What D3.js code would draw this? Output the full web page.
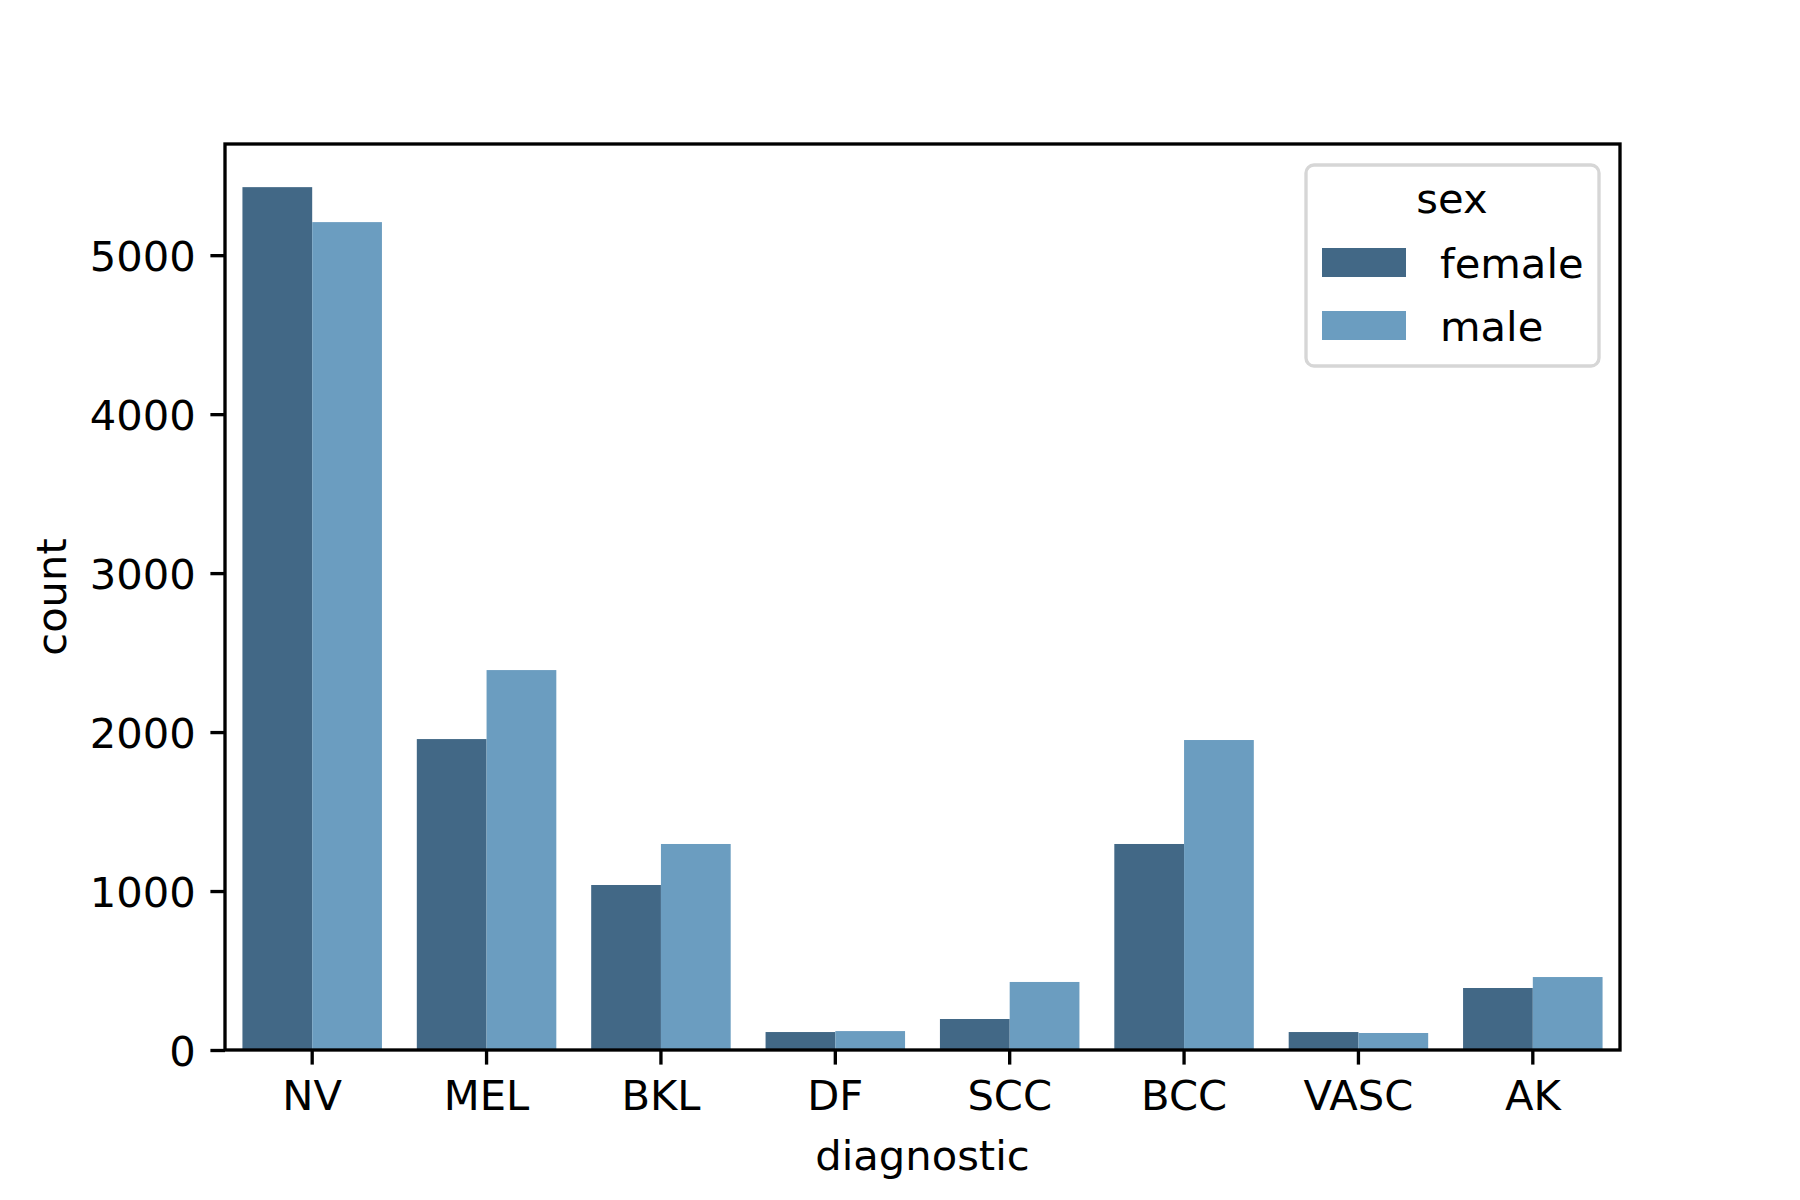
<!DOCTYPE html>
<html>
<head>
<meta charset="utf-8">
<script src="https://cdn.jsdelivr.net/npm/d3@7"></script>
<style>
  body { margin: 0; background: #fff; }
  text { font-family: "DejaVu Sans", sans-serif; fill: #000; }
</style>
</head>
<body>
<div id="chart"></div>
<script>
// values
const categories = ["NV", "MEL", "BKL", "DF", "SCC", "BCC", "VASC", "AK"];
const femaleCounts = [5428, 1956, 1038, 113, 195, 1296, 113, 390];
const maleCounts = [5208, 2390, 1296, 119, 428, 1950, 107, 459];
const seriesNames = ["female", "male"];
const yTicks = [0, 1000, 2000, 3000, 4000, 5000];

const colors = { female: "#426886", male: "#6b9dc0" };

const width = 1800, height = 1200;
const margin = { left: 225, right: 180, top: 144, bottom: 150 };
const fontSize = 41.67;
const lineW = 3.33;
const tickLen = 14.6;

const svg = d3.select("#chart").append("svg")
  .attr("width", width)
  .attr("height", height);

const plotW = width - margin.left - margin.right;
const plotH = height - margin.top - margin.bottom;

const x = d3.scaleBand()
  .domain(categories)
  .range([margin.left, margin.left + plotW])
  .paddingInner(0)
  .paddingOuter(0);

const x1 = d3.scaleBand()
  .domain(seriesNames)
  .range([0, x.bandwidth() * 0.8]);

const y = d3.scaleLinear()
  .domain([0, d3.max(femaleCounts.concat(maleCounts)) * 1.05])
  .range([margin.top + plotH, margin.top]);

const rows = categories.map((c, i) => ({
  category: c,
  values: [
    { sex: "female", count: femaleCounts[i] },
    { sex: "male", count: maleCounts[i] }
  ]
}));

// bars
const groups = svg.append("g").selectAll("g")
  .data(rows)
  .join("g")
  .attr("transform", d => `translate(${x(d.category) + x.bandwidth() * 0.1},0)`);

groups.selectAll("rect")
  .data(d => d.values)
  .join("rect")
  .attr("x", d => x1(d.sex))
  .attr("width", x1.bandwidth())
  .attr("y", d => y(d.count))
  .attr("height", d => y(0) - y(d.count))
  .attr("fill", d => colors[d.sex]);

// axes
const xAxis = svg.append("g")
  .attr("transform", `translate(0,${y(0)})`)
  .call(d3.axisBottom(x).tickSize(tickLen).tickPadding(14.6));

const yAxis = svg.append("g")
  .attr("transform", `translate(${margin.left},0)`)
  .call(d3.axisLeft(y).tickValues(yTicks).tickFormat(d3.format("d")).tickSize(tickLen).tickPadding(14.6));

[xAxis, yAxis].forEach(ax => {
  ax.select(".domain").remove();
  ax.selectAll(".tick line").attr("stroke", "#000").attr("stroke-width", lineW);
  ax.selectAll(".tick text")
    .attr("font-size", fontSize)
    .attr("font-family", "DejaVu Sans");
});
xAxis.selectAll(".tick text").attr("dy", "0.75em");
yAxis.selectAll(".tick text").attr("dy", "0.36em");

// frame
svg.append("rect")
  .attr("x", margin.left)
  .attr("y", margin.top)
  .attr("width", plotW)
  .attr("height", plotH)
  .attr("fill", "none")
  .attr("stroke", "#000")
  .attr("stroke-width", lineW)
  .attr("stroke-linecap", "square");

// axis labels
svg.append("text")
  .attr("x", margin.left + plotW / 2)
  .attr("y", 1170)
  .attr("text-anchor", "middle")
  .attr("font-size", fontSize)
  .text("diagnostic");

svg.append("text")
  .attr("transform", `translate(66,${margin.top + plotH / 2}) rotate(-90)`)
  .attr("text-anchor", "middle")
  .attr("font-size", fontSize)
  .text("count");

// legend
const legend = svg.append("g");
legend.append("rect")
  .attr("x", 1306)
  .attr("y", 165)
  .attr("width", 293)
  .attr("height", 201)
  .attr("rx", 8)
  .attr("fill", "#fff")
  .attr("fill-opacity", 0.8)
  .attr("stroke", "#d6d6d6")
  .attr("stroke-width", lineW);

legend.append("text")
  .attr("x", 1452)
  .attr("y", 213)
  .attr("text-anchor", "middle")
  .attr("font-size", fontSize)
  .text("sex");

const items = legend.selectAll("g.item")
  .data(seriesNames)
  .join("g")
  .attr("class", "item")
  .attr("transform", (d, i) => `translate(0,${i * 63})`);

items.append("rect")
  .attr("x", 1322)
  .attr("y", 248)
  .attr("width", 84)
  .attr("height", 29)
  .attr("fill", d => colors[d]);

items.append("text")
  .attr("x", 1440)
  .attr("y", 278)
  .attr("font-size", fontSize)
  .text(d => d);
</script>
</body>
</html>
